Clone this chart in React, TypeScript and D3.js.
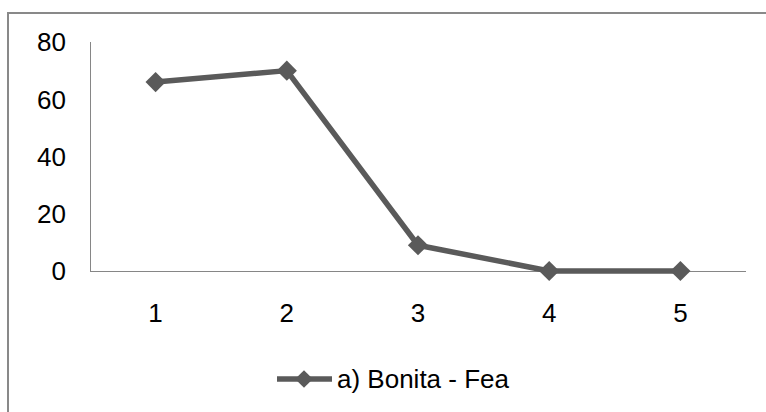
import React from "react";
import * as d3 from "d3";

const categories = ["1", "2", "3", "4", "5"];
const values = [66, 70, 9, 0, 0];
const yTicks = [0, 20, 40, 60, 80];
const seriesName = "a) Bonita - Fea";

const W = 766;
const H = 412;
const plot = { left: 90, right: 746, top: 42, bottom: 271 };
const lineColor = "#5a5a5a";
const axisColor = "#868686";
const font = "'Liberation Sans', Arial, sans-serif";

export default function App() {
  const x = d3
    .scaleBand<string>()
    .domain(categories)
    .range([plot.left, plot.right]);
  const y = d3.scaleLinear().domain([0, 80]).range([plot.bottom, plot.top]);
  const cx = (c: string) => (x(c) ?? 0) + x.bandwidth() / 2;

  const line = d3
    .line<number>()
    .x((_, i) => cx(categories[i]))
    .y((d) => y(d));

  const diamond = d3.symbol(d3.symbolDiamond2, 260)() ?? "";
  const legendDiamond = d3.symbol(d3.symbolDiamond2, 200)() ?? "";

  return (
    <svg
      width={W}
      height={H}
      style={{ position: "absolute", left: 0, top: 0, background: "#fff" }}
    >
      {/* chart frame */}
      <rect
        x={8}
        y={13}
        width={W + 20}
        height={H + 20}
        fill="none"
        stroke="#898989"
        strokeWidth={2}
      />

      {/* axes */}
      <line
        x1={plot.left + 0.5}
        x2={plot.left + 0.5}
        y1={plot.top}
        y2={plot.bottom}
        stroke={axisColor}
        strokeWidth={1}
      />
      <line
        x1={plot.left}
        x2={plot.right}
        y1={plot.bottom + 0.5}
        y2={plot.bottom + 0.5}
        stroke={axisColor}
        strokeWidth={1}
      />

      {/* y tick labels */}
      {yTicks.map((t) => (
        <text
          key={t}
          x={66}
          y={y(t)}
          dy="0.36em"
          textAnchor="end"
          fontFamily={font}
          fontSize={26}
          fill="#000"
        >
          {t}
        </text>
      ))}

      {/* x tick labels */}
      {categories.map((c) => (
        <text
          key={c}
          x={cx(c)}
          y={322}
          textAnchor="middle"
          fontFamily={font}
          fontSize={26}
          fill="#000"
        >
          {c}
        </text>
      ))}

      {/* series */}
      <path
        d={line(values) ?? ""}
        fill="none"
        stroke={lineColor}
        strokeWidth={5.5}
        strokeLinejoin="round"
      />
      {values.map((v, i) => (
        <path
          key={i}
          d={diamond}
          transform={`translate(${cx(categories[i])},${y(v)})`}
          fill={lineColor}
        />
      ))}

      {/* legend */}
      <line
        x1={277}
        x2={332}
        y1={379}
        y2={379}
        stroke={lineColor}
        strokeWidth={5.5}
      />
      <path d={legendDiamond} transform="translate(304,379)" fill={lineColor} />
      <text
        x={337}
        y={388}
        fontFamily={font}
        fontSize={26}
        fill="#000"
      >
        {seriesName}
      </text>
    </svg>
  );
}
